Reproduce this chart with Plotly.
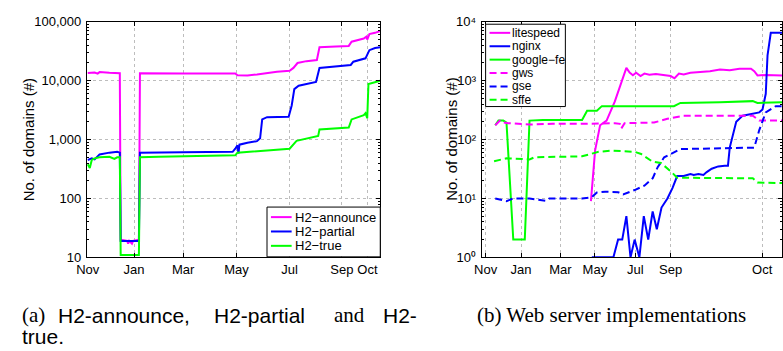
import plotly.graph_objects as go

W, H = 783, 351

# ---------------- Panel (a): H2 announce / partial / true ----------------
a_tick_vals = [1.1, 54.4, 111, 172.4, 233.6, 293.7, 323.2]
a_tick_text = ["Nov", "Jan", "Mar", "May", "Jul", "Sep", "Oct"]

ann_x = [1.1, 9, 12.5, 14.7, 26, 35, 38, 39, 46.5, 47.6, 48.8, 52, 53.3, 60, 61.2, 111, 171,
         173.5, 185, 196, 206, 219, 233.6, 238, 242.7, 253, 265, 268, 287, 301.7, 305, 319,
         322, 323, 325.5, 332, 338]
ann_y = [13500, 13800, 13200, 14000, 13600, 13400, 13400, 20, 19, 17, 19, 17, 19, 20, 13400,
         13300, 13300, 12400, 12300, 12800, 13500, 14200, 14700, 16500, 20000, 21500, 22500,
         37000, 38000, 39000, 46000, 52000, 56000, 50000, 62000, 65000, 70000]

par_x = [1.1, 5.7, 9, 14.7, 26, 35, 38, 39, 60, 61.2, 111, 168, 171, 173.5, 174.7, 175.8, 185,
         196, 199.6, 202, 207.6, 232.5, 236, 239, 244, 264, 268, 287, 304, 307, 321, 325.5,
         332, 338]
par_y = [450, 480, 460, 560, 600, 620, 600, 19, 19, 600, 610, 620, 700, 800, 580, 820, 880,
         940, 1050, 2200, 2400, 2450, 3800, 7200, 8200, 9500, 16500, 17500, 18500, 21000,
         24000, 33000, 36000, 37000]

tru_x = [1.1, 3.4, 5.7, 9, 14.7, 26, 31.8, 35, 38, 39, 60, 61.2, 83, 111, 171, 173.5, 196,
         233.6, 241.6, 258.6, 266.5, 268, 301.7, 305, 319, 321, 323, 324.4, 332, 338]
tru_y = [380, 330, 450, 480, 500, 510, 470, 500, 500, 11, 11, 500, 510, 520, 540, 600, 640,
         700, 950, 1100, 1150, 1480, 1600, 2200, 2600, 2800, 2300, 8800, 9500, 10000]

a_names = ["H2\u2212announce", "H2\u2212partial", "H2\u2212true"]
a_colors = ["#ff00ff", "#0000ff", "#00ff00"]

# ---------------- Panel (b): web server implementations ----------------
b_tick_vals = [1.33, 13.33, 26.67, 38.33, 52, 64, 95]
b_tick_text = ["Nov", "Jan", "Mar", "May", "Jul", "Sep", "Oct"]

lite_x = [37.0, 38.4, 40.1, 42.3, 45.1, 47.3, 49.0, 50.1, 51.2, 52.3, 53.8, 55.1, 56.8, 59.0,
          61.8, 64.0, 65.3, 66.8, 68.4, 70.7, 74.0, 77.3, 80.7, 84.0, 87.3, 91.2, 92.3, 93.4,
          96.2, 101.7]
lite_y = [9, 65, 175, 210, 445, 890, 1650, 1370, 1240, 1370, 1200, 1320, 1260, 1300, 1240,
          1200, 1100, 1320, 1280, 1360, 1400, 1450, 1550, 1510, 1600, 1600, 1450, 1230, 1250,
          1230]

ngx_x = [37.3, 44.6, 46.2, 47.6, 49.0, 50.4, 51.8, 53.4, 54.9, 56.4, 57.9, 59.3, 60.9, 62.9,
         64.6, 66.2, 68.4, 70.7, 71.8, 73.4, 75.1, 76.2, 77.9, 80.1, 82.3, 83.4, 84.0, 86.2,
         88.4, 91.8, 94.0, 95.1, 96.2, 96.8, 97.9, 101.7]
ngx_y = [1, 1, 2, 2, 5, 1, 2, 1, 5, 2, 6, 3, 7, 10, 15, 24, 24, 26, 25, 26, 25, 28, 32, 35,
         36, 36, 73, 200, 255, 280, 290, 325, 600, 2700, 6500, 6500]

gfe_x = [4.6, 5.7, 7.3, 8.4, 10.7, 14.6, 16.2, 20.7, 34.0, 35.7, 39.0, 40.7, 65.1, 67.3, 80.7,
         91.8, 93.4, 101.7]
gfe_y = [175, 210, 210, 195, 2, 2, 210, 215, 215, 310, 310, 370, 370, 420, 430, 450, 420, 430]

gws_x = [4.6, 6.2, 7.3, 9.0, 16.2, 24.0, 34.0, 45.1, 46.8, 47.3, 48.4, 58.4, 62.9, 68.4,
         74.0, 91.8, 94.0, 101.7]
gws_y = [175, 210, 195, 190, 180, 185, 185, 190, 185, 155, 190, 195, 225, 255, 255, 255, 210,
         210]

gse_x = [4.6, 7.9, 8.4, 10.7, 16.2, 21.8, 22.9, 34.0, 37.3, 39.0, 41.8, 46.2, 47.9, 51.8,
         55.1, 57.9, 59.6, 61.8, 64.0, 67.3, 92.3, 94.0, 96.2, 99.6, 101.7]
gse_y = [10, 9.3, 9, 10, 10, 9.1, 10, 10, 10.5, 12.6, 13, 12.8, 11.7, 13.9, 16.5, 22, 34, 50,
         57, 69, 73, 145, 290, 370, 370]

sffe_x = [4.2, 8.4, 16.2, 17.9, 34.0, 39.6, 44.0, 51.8, 54.0, 57.9, 60.7, 64.0, 66.2, 91.8,
          93.4, 101.7]
sffe_y = [43, 48, 46, 50, 52, 62, 65, 62, 57, 42, 40, 29, 22.5, 22, 18.6, 18.3]

b_names = ["litespeed", "nginx", "google\u2212fe", "gws", "gse", "sffe"]
b_colors = ["#ff00ff", "#0000ff", "#00ff00", "#ff00ff", "#0000ff", "#00ff00"]
DASH = "7px,4px"
b_dash = ["solid", "solid", "solid", DASH, DASH, DASH]

# ---------------- figure ----------------
FONT = "Liberation Sans, Arial, Helvetica, sans-serif"
SERIF = "Liberation Serif, Times New Roman, serif"
LW = 2

fig = go.Figure()
for xs, ys, nm, col in zip([ann_x, par_x, tru_x], [ann_y, par_y, tru_y], a_names, a_colors):
    fig.add_trace(go.Scatter(x=xs, y=ys, name=nm, mode="lines", showlegend=False,
                             line=dict(color=col, width=LW), xaxis="x", yaxis="y"))
for xs, ys, nm, col, ds in zip([lite_x, ngx_x, gfe_x, gws_x, gse_x, sffe_x],
                               [lite_y, ngx_y, gfe_y, gws_y, gse_y, sffe_y],
                               b_names, b_colors, b_dash):
    fig.add_trace(go.Scatter(x=xs, y=ys, name=nm, mode="lines", showlegend=False,
                             line=dict(color=col, width=LW, dash=ds), xaxis="x2", yaxis="y2"))

ydom = [1 - 261.5 / H, 1 - 15.5 / H]
common = dict(showline=True, linecolor="black", linewidth=1, mirror="ticks",
              ticks="inside", ticklen=4, tickcolor="black",
              showgrid=True, gridcolor="#bdbdbd", griddash="dot", gridwidth=1,
              zeroline=False, tickfont=dict(family=FONT, size=13, color="black"))
minor = dict(ticks="inside", ticklen=2, tickcolor="black", dtick="D1", showgrid=False)

fig.update_layout(
    width=W, height=H, margin=dict(l=0, r=0, t=0, b=0),
    paper_bgcolor="white", plot_bgcolor="white", showlegend=False,
    xaxis=dict(domain=[77 / W, 375 / W], range=[0, 338], tickvals=a_tick_vals,
               ticktext=a_tick_text, anchor="y", ticklabelstandoff=0, **common),
    yaxis=dict(domain=ydom, type="log", range=[1, 5], anchor="x",
               tickvals=[10, 100, 1000, 10000, 100000],
               ticktext=["10", "100", "1,000", "10,000", "100,000"], minor=minor,
               ticklabelstandoff=2, **common),
    xaxis2=dict(domain=[478 / W, 1.0], range=[0, 101.7], tickvals=b_tick_vals,
                ticktext=b_tick_text, anchor="y2", ticklabelstandoff=0, **common),
    yaxis2=dict(domain=ydom, type="log", range=[0, 4], anchor="x2",
                tickvals=[1, 10, 100, 1000, 10000],
                ticktext=["10\u2070", "10\u00b9", "10\u00b2", "10\u00b3", "10\u2074"],
                minor=minor, ticklabelstandoff=2, **common),
)

shapes = []
annos = []


def px(x):
    return x / W


def py(y):
    return 1 - y / H


# y titles
for xc in (18, 447):
    annos.append(dict(x=px(xc), y=py(138.5), xref="paper", yref="paper", text="No. of domains (#)",
                      textangle=-90, showarrow=False, xanchor="center", yanchor="middle",
                      font=dict(family=FONT, size=15, color="black")))


def legend(box, items, line_x0, line_x1, text_x, fs):
    x0, y0, x1, y1 = box
    shapes.append(dict(type="rect", xref="paper", yref="paper", x0=px(x0), x1=px(x1),
                       y0=py(y1), y1=py(y0), line=dict(color="black", width=1),
                       fillcolor="white", layer="above"))
    for (label, col, ds, yy) in items:
        shapes.append(dict(type="line", xref="paper", yref="paper", x0=px(line_x0),
                           x1=px(line_x1), y0=py(yy), y1=py(yy),
                           line=dict(color=col, width=LW, dash=ds), layer="above"))
        annos.append(dict(x=px(text_x), y=py(yy), xref="paper", yref="paper", text=label,
                          showarrow=False, xanchor="left", yanchor="middle", borderpad=0,
                          font=dict(family=FONT, size=fs, color="black")))


legend((260, 209, 375, 261),
       [(a_names[i], a_colors[i], "solid", yy) for i, yy in enumerate([219.5, 234.5, 249.5])],
       264, 285, 287, 13)
legend((482, 18, 563, 104),
       [(b_names[i], b_colors[i], b_dash[i], yy)
        for i, yy in enumerate([27, 41, 55, 69, 83, 97])],
       486, 507, 508, 12)

# captions
cap = [("(a)", 10, 322, SERIF), ("H2-announce,", 47, 322, FONT), ("H2-partial", 205, 322, FONT),
       ("and", 327, 322, SERIF), ("H2-", 377, 322, FONT), ("true.", 10, 344, FONT),
       ("(b) Web server implementations", 472, 322, SERIF)]
for t, xx, yy, ff in cap:
    annos.append(dict(x=px(xx), y=py(yy), xref="paper", yref="paper", text=t, showarrow=False,
                      xanchor="left", yanchor="middle", borderpad=0,
                      font=dict(family=ff, size=21, color="black")))

fig.update_layout(shapes=shapes, annotations=annos)
fig.write_html("out.html")
